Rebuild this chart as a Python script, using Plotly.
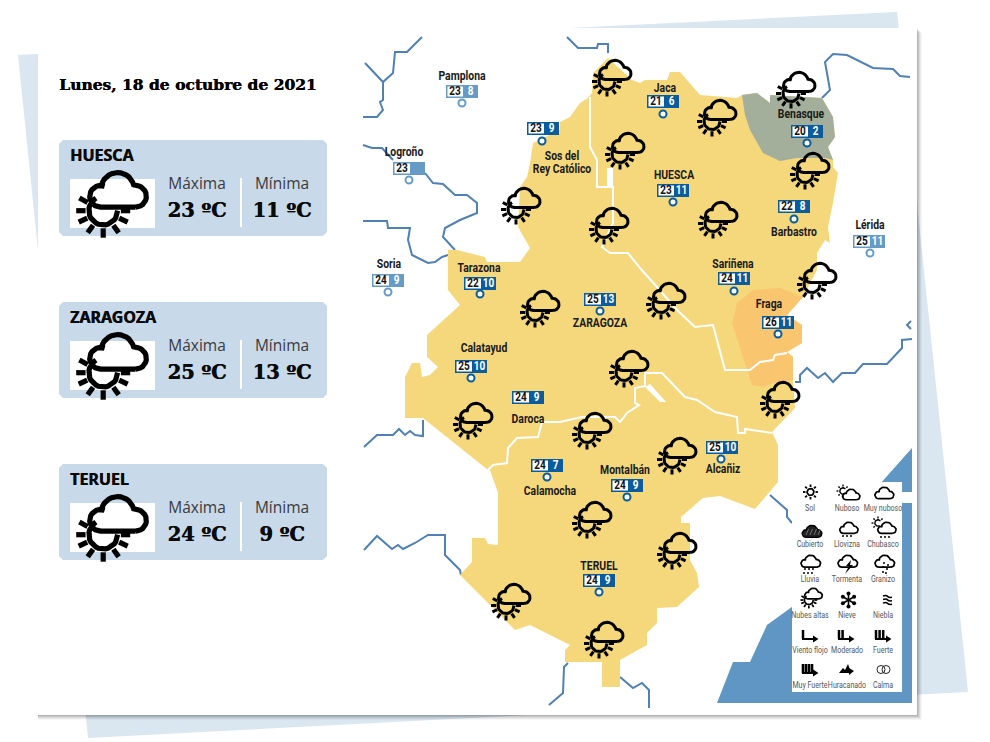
import math
import plotly.graph_objects as go

# ---------- data ----------
TITLE = "Lunes, 18 de octubre de 2021"
PANEL_NAMES = ["HUESCA", "ZARAGOZA", "TERUEL"]
PANEL_MAX = [23, 25, 24]
PANEL_MIN = [11, 13, 9]
PANEL_TOP = [140, 302, 464]

STATIONS = ["Pamplona", "Logroño", "Jaca", "Benasque", "HUESCA", "Barbastro", "Lérida", "Soria",
            "Tarazona", "ZARAGOZA", "Calatayud", "Daroca", "Calamocha", "Montalbán", "Sariñena",
            "Fraga", "Alcañiz", "TERUEL", "Sos"]
ST_MAX = [23, 23, 21, 20, 23, 22, 25, 24, 22, 25, 25, 24, 24, 24, 24, 26, 25, 24, 23]
ST_MIN = [8, None, 6, 2, 11, 8, 11, 9, 10, 13, 10, 9, 7, 9, 11, 11, 10, 9, 9]
ST_OUTSIDE = [1, 1, 0, 0, 0, 0, 1, 1, 0, 0, 0, 0, 0, 0, 0, 0, 0, 0, 0]
BOX_X = [446, 393, 647, 791, 657, 778, 853, 372, 464, 584, 455, 512, 531, 611, 718, 762, 706, 583, 527]
BOX_Y = [85, 162, 95, 125, 184, 200, 235, 274, 277, 293, 360, 391, 459, 479, 272, 316, 441, 574, 122]
MARK_X = [462, 409, 663, 807, 673, 794, 870, 388, 480, 600, 471, None, 547, 627, 734, 778, 721, 599, 542]
MARK_Y = [103, 180, 114, 143, 202, 219, 253, 292, 294, 311, 378, None, 477, 497, 291, 334, 459, 592, 141]
LABEL_X = [462, 404, 665, 801, 674, 794, 870, 389, 479, 600, 484, 528, 550, 625, 723 + 10, 769, 723, 599, 0]
LABEL_Y = [76, 152, 88, 114, 175, 232, 225, 264, 268, 323, 348, 419, 491, 470, 264, 304, 469, 566, 0]
EXTRA_LABELS = ["Sos del", "Rey Católico"]
EXTRA_X = [562, 562]
EXTRA_Y = [156, 169]

ICON_X = [593, 606, 502, 590, 698, 777, 791, 699, 798, 647, 521, 610, 454, 573, 761, 658, 573, 658, 492, 585]
ICON_Y = [60, 133, 188, 208, 100, 72, 153, 202, 263, 283, 291, 351, 403, 413, 382, 438, 502, 533, 584, 622]

ARAGON_X = [608, 593, 592, 588, 580, 570, 560, 560, 533, 530, 527, 520, 518, 527, 530, 520, 487, 485, 457, 448, 448,
            460, 427, 427, 438, 430, 422, 420, 412, 405, 405, 423, 488, 490, 498, 498, 488, 485, 472, 472, 460, 515,
            530, 570, 565, 565, 602, 602, 620, 620, 647, 647, 657, 657, 677, 699, 697, 690, 690, 681, 681, 703, 720,
            755, 760, 778, 778, 772, 795, 793, 793, 787, 802, 802, 787, 803, 817, 817, 825, 830, 828, 833, 838, 833,
            833, 828, 835, 833, 822, 770, 770, 757, 742, 737, 700, 680, 670, 667, 645, 640, 632]
ARAGON_Y = [58, 73, 93, 98, 103, 117, 122, 130, 143, 163, 177, 187, 227, 243, 248, 262, 262, 257, 250, 250, 290,
            305, 335, 357, 367, 375, 377, 363, 363, 377, 418, 418, 470, 470, 493, 545, 544, 538, 538, 562, 575, 630,
            625, 645, 650, 662, 662, 687, 687, 660, 645, 633, 623, 608, 607, 587, 573, 560, 523, 523, 517, 498, 496,
            509, 503, 482, 445, 432, 408, 380, 357, 352, 343, 325, 315, 297, 270, 253, 240, 243, 227, 203, 173, 167,
            160, 147, 137, 117, 98, 95, 103, 93, 95, 98, 95, 72, 72, 80, 80, 83, 80]
BENASQUE_X = [742, 757, 770, 770, 822, 833, 835, 828, 833, 826, 797, 780, 763, 750, 745]
BENASQUE_Y = [95, 93, 103, 95, 98, 117, 137, 147, 160, 158, 158, 161, 153, 130, 115]
FRAGA_X = [803, 780, 753, 737, 732, 740, 747, 748, 752, 763, 773, 793, 793, 787, 802, 802, 787]
FRAGA_Y = [297, 288, 290, 303, 323, 347, 368, 373, 385, 387, 383, 380, 357, 352, 343, 325, 315]

BORDER_1_X = [590, 590, 597, 597, 613, 613, 602, 610, 628, 640, 657, 677, 695, 713, 725, 750, 760, 773, 775, 787]
BORDER_1_Y = [97, 147, 160, 187, 187, 223, 247, 253, 253, 268, 287, 310, 327, 325, 370, 370, 362, 360, 355, 353]
NOTCH_X = [607, 613, 613, 607, 607]
NOTCH_Y = [168, 168, 187, 187, 168]
BORDER_2_X = [772, 745, 745, 738, 737, 715, 697, 685, 662, 645, 645, 635, 635, 639, 627, 620, 615, 582, 560, 542, 538, 517, 508, 507, 493, 488]
BORDER_2_Y = [433, 429, 433, 433, 417, 412, 400, 397, 373, 373, 386, 388, 403, 405, 413, 422, 417, 417, 422, 422, 437, 438, 448, 463, 465, 470]
WEDGE_X = [645, 660, 666, 650, 645]
WEDGE_Y = [387, 402, 402, 384, 387]

RIVERS = [
    ([422, 407, 395, 393, 383, 365], [37, 52, 52, 73, 82, 63]),
    ([383, 383, 380, 383, 377, 363], [82, 100, 102, 110, 117, 117]),
    ([567, 578, 597, 598, 608, 608], [37, 48, 48, 44, 44, 53]),
    ([363, 372, 382, 393], [145, 148, 148, 160]),
    ([425, 433, 443, 455, 467, 477, 477, 460, 445, 443, 455], [173, 183, 184, 195, 195, 203, 213, 220, 228, 237, 250]),
    ([363, 387, 388, 410, 408, 412, 428, 435, 442, 448], [221, 221, 228, 228, 240, 255, 263, 262, 257, 255]),
    ([364, 377, 393, 399, 405, 410, 415, 423, 423], [447, 435, 435, 429, 435, 431, 435, 436, 420]),
    ([910, 900, 893, 873, 847, 833, 825, 827, 828, 830, 822], [77, 76, 69, 68, 55, 54, 62, 73, 80, 90, 98]),
    ([795, 800, 800, 807, 818, 825, 833, 842, 855, 863, 887, 902, 902, 912], [382, 382, 375, 368, 378, 373, 382, 373, 373, 364, 364, 348, 340, 339]),
    ([911, 907, 911], [321, 325, 329]),
    ([364, 377, 392, 398, 403, 415, 428, 445, 445, 460, 461], [550, 536, 549, 545, 549, 543, 535, 535, 555, 570, 575]),
    ([549, 563, 564, 568], [705, 693, 667, 663]),
    ([620, 633, 642, 649, 649], [677, 688, 683, 690, 708]),
    ([770, 787, 787, 792], [495, 510, 517, 523]),
]
SEA_X = [912, 880, 796, 796, 767, 750, 733, 717, 912]
SEA_Y = [448, 484, 484, 604, 625, 662, 662, 703, 703]

LEGEND_LABELS = ["Sol", "Nuboso", "Muy nuboso", "Cubierto", "Llovizna", "Chubasco", "Lluvia", "Tormenta", "Granizo",
                 "Nubes altas", "Nieve", "Niebla", "Viento flojo", "Moderado", "Fuerte", "Muy Fuerte", "Huracanado", "Calma"]
LEGEND_COL = [810, 847, 883]
LEGEND_ROW = [508, 544, 579, 615, 650, 685]

# ---------- styles ----------
YELLOW = "#f6d87c"
DARK = "#0b5c9c"
LIGHT = "#669bc6"
RIVER = "#5080b4"
NARROW = "Roboto"
BK = "#000000"

fig = go.Figure()


def poly(xs, ys, fill, ln=None, w=0):
    fig.add_trace(go.Scatter(x=list(xs), y=list(ys), mode="lines", fill="toself", fillcolor=fill,
                             line=dict(color=ln or "rgba(0,0,0,0)", width=w),
                             hoverinfo="skip", showlegend=False))


def line(xs, ys, color=BK, w=2, smooth=False):
    fig.add_trace(go.Scatter(x=list(xs), y=list(ys), mode="lines",
                             line=dict(color=color, width=w, shape="spline" if smooth else "linear"),
                             hoverinfo="skip", showlegend=False))


def text(x, y, s, size, family=NARROW, color="#111111", pos="middle center", weight=400, shadow=None):
    font = dict(size=size, family=family, color=color, weight=weight)
    if shadow:
        font["shadow"] = shadow
    fig.add_trace(go.Scatter(x=[x], y=[y + 1.5], mode="text", text=[s], textposition=pos, textfont=font,
                             hoverinfo="skip", showlegend=False))


def rect(x0, y0, x1, y1, fill):
    poly([x0, x1, x1, x0, x0], [y0, y0, y1, y1, y0], fill)


def arc(cx, cy, r, a0, a1, n=14):
    return [(cx + r * math.cos(math.radians(a0 + (a1 - a0) * i / n)),
             cy + r * math.sin(math.radians(a0 + (a1 - a0) * i / n))) for i in range(n + 1)]


CLOUD = arc(32, 13.5, 6, 90, -100) + arc(22, 9.5, 9.2, -15, -165) + arc(12.5, 13.5, 6, -70, -270)
CLOUD.append(CLOUD[0])


def cloud(ox, oy, s, w, filled=None):
    xs = [ox + s * p[0] for p in CLOUD]
    ys = [oy + s * p[1] for p in CLOUD]
    if filled:
        poly(xs, ys, filled, BK, w)
    else:
        line(xs, ys, BK, w)


def sun(cx, cy, r, r0, r1, w, a0, a1, rays):
    pts = arc(cx, cy, r, a0, a1, 24)
    line([p[0] for p in pts], [p[1] for p in pts], BK, w)
    for a in rays:
        c, d = math.cos(math.radians(a)), math.sin(math.radians(a))
        line([cx + r0 * c, cx + r1 * c], [cy + r0 * d, cy + r1 * d], BK, w)


def weather_icon(ox, oy, s=1.0, w=3.0):
    sun(ox + 14 * s, oy + 21.5 * s, 8 * s, 9.8 * s, 15 * s, w, 0, 240,
        [0, 25, 55, 90, 125, 155, 180, 208])
    cloud(ox, oy, s, w)


# ---------- sheets ----------
poly([897, 18, 88, 968, 897], [12, 55, 738, 692, 12], "#dae6f0")
for off, col in [(5, "rgba(0,0,0,0.03)"), (4, "rgba(0,0,0,0.05)"), (3, "rgba(0,0,0,0.07)"), (2, "rgba(0,0,0,0.08)"), (1, "rgba(0,0,0,0.1)")]:
    rect(38, 28 + off, 917 + off, 715 + off, col)
rect(38, 28, 917, 715, "#ffffff")

# ---------- map ----------
for rx, ry in RIVERS:
    line(rx, ry, RIVER, 2)
poly(ARAGON_X, ARAGON_Y, YELLOW)
poly(BENASQUE_X, BENASQUE_Y, "#a3ae9b")
poly(FRAGA_X, FRAGA_Y, "#fac56f")
line(BORDER_1_X, BORDER_1_Y, "#ffffff", 2)
poly(NOTCH_X, NOTCH_Y, "#ffffff")
line(BORDER_2_X, BORDER_2_Y, "#ffffff", 2)
poly(WEDGE_X, WEDGE_Y, "#ffffff")
poly(SEA_X, SEA_Y, "#5f96c4")
rect(792, 482, 902, 692, "#ffffff")
rect(901, 492, 913, 503, "#ffffff")

for ix, iy in zip(ICON_X, ICON_Y):
    weather_icon(ix, iy)

# ---------- stations ----------
for i, name in enumerate(STATIONS):
    col = LIGHT if ST_OUTSIDE[i] else DARK
    bx, by = BOX_X[i], BOX_Y[i]
    rect(bx, by, bx + 32, by + 13, col)
    rect(bx + 1.5, by + 1.5, bx + 17, by + 11.5, "#ffffff")
    text(bx + 9, by + 5.5, str(ST_MAX[i]), 12.5, color="#111111", weight=700)
    if ST_MIN[i] is not None:
        text(bx + 24.5, by + 5.5, str(ST_MIN[i]), 12.5, color="#ffffff", weight=700)
    if MARK_X[i] is not None:
        fig.add_trace(go.Scatter(x=[MARK_X[i]], y=[MARK_Y[i]], mode="markers",
                                 marker=dict(size=7, color="#ffffff", line=dict(color=col, width=2)),
                                 hoverinfo="skip", showlegend=False))
    if name != "Sos":
        text(LABEL_X[i], LABEL_Y[i] - 0.5, name, 13, color="#1a1a1a", weight=700)
for s, x, y in zip(EXTRA_LABELS, EXTRA_X, EXTRA_Y):
    text(x, y - 0.5, s, 13, color="#1a1a1a", weight=700)

# ---------- left column ----------
text(59, 84.5, TITLE, 15.5, "DejaVu Serif", "#000000", "middle right", 700, "0.5px 0 0 #000")
for name, hi, lo, top in zip(PANEL_NAMES, PANEL_MAX, PANEL_MIN, PANEL_TOP):
    x0, x1, y0, y1, r = 59, 327, top, top + 96, 4
    poly([x0 + r, x1 - r, x1, x1, x1 - r, x0 + r, x0, x0, x0 + r],
         [y0, y0, y0 + r, y1 - r, y1, y1, y1 - r, y0 + r, y0], "#c8d9ea")
    rect(70, top + 39, 155, top + 88, "#ffffff")
    weather_icon(78, top + 32, 1.8, 5.2)
    text(70, top + 15, name, 16, "Noto Sans", "#0a0a0a", "middle right", 700, "0.4px 0 0 #0a0a0a")
    text(197, top + 44, "Máxima", 15.5, "Open Sans", "#3a3a3a")
    text(282, top + 44, "Mínima", 15.5, "Open Sans", "#3a3a3a")
    line([241, 241], [top + 38, top + 87], "#ffffff", 2)
    text(197, top + 71, f"{hi} ºC", 19.5, "DejaVu Serif", "#0a0a0a", weight=700, shadow="0.5px 0 0 #0a0a0a")
    text(282, top + 71, f"{lo} ºC", 19.5, "DejaVu Serif", "#0a0a0a", weight=700, shadow="0.5px 0 0 #0a0a0a")

# ---------- legend ----------
for k, lab in enumerate(LEGEND_LABELS):
    text(LEGEND_COL[k % 3], LEGEND_ROW[k // 3] - 1, lab, 8.5, NARROW, "#555555")


def dots(xs, ys, size=2):
    fig.add_trace(go.Scatter(x=xs, y=ys, mode="markers", marker=dict(size=size, color=BK),
                             hoverinfo="skip", showlegend=False))


def wind(x, y, bars, bw=2.5, step=3.6):
    line([x, x + 12], [y + 9, y + 9], BK, 2)
    poly([x + 11, x + 16.5, x + 11, x + 11], [y + 5.5, y + 9, y + 12.5, y + 5.5], BK)
    for b in range(bars):
        line([x + 1 + b * step, x + 1 + b * step], [y, y + 9], BK, bw)


# Sol
sun(810.5, 492, 3.4, 5, 7.5, 1.8, 0, 360, [0, 45, 90, 135, 180, 225, 270, 315])
# Nuboso
sun(843, 491, 3.2, 4.6, 6.5, 1.4, 60, 320, [90, 135, 180, 225, 270, 315])
cloud(839, 489, 0.55, 1.7)
# Muy nuboso
cloud(871, 487, 0.6, 1.7)
# Cubierto
cloud(798, 525, 0.63, 1.3, filled="#222222")
for dx in [806, 810, 814, 818]:
    line([dx, dx + 2.5], [535, 529], "#aaaaaa", 0.6)
# Llovizna
cloud(836, 522, 0.58, 1.7)
dots([843, 847, 851], [536, 536, 536])
# Chubasco
sun(878, 523, 3.2, 4.6, 6.5, 1.4, 60, 320, [135, 180, 225, 270, 315])
cloud(874, 522, 0.58, 1.7)
dots([881, 885, 889], [537, 537, 537])
# Lluvia
cloud(797, 555, 0.62, 1.7)
dots([805, 809, 813, 804, 808, 812], [569, 569, 569, 573, 573, 573])
# Tormenta
cloud(834, 555, 0.62, 1.7)
poly([851, 846, 849, 845, 853, 850, 851], [560, 566, 566, 574, 565, 565, 560], BK)
# Granizo
cloud(871, 555, 0.62, 1.7)
dots([884, 888, 883, 887, 883, 886], [563, 565, 567, 569, 572, 573])
# Nubes altas
weather_icon(801, 588, 0.56, 1.7)
# Nieve
for a in [30, 90, 150]:
    c, d = math.cos(math.radians(a)), math.sin(math.radians(a))
    line([848.5 - 6.5 * c, 848.5 + 6.5 * c], [600 - 6.5 * d, 600 + 6.5 * d], BK, 1.6)
dots([848.5 + 6.5 * math.cos(math.radians(a)) for a in range(30, 390, 60)],
     [600 + 6.5 * math.sin(math.radians(a)) for a in range(30, 390, 60)], 4)
# Niebla
for y in [596.5, 600, 603.5]:
    line([883, 886, 889, 892], [y - 0.5, y - 1, y + 0.8, y + 0.8], BK, 1.6, smooth=True)
# Winds
wind(802, 630, 1)
wind(838, 630, 2)
wind(875, 630, 3)
wind(802, 664, 4, 2.6, 3)
poly([839, 843, 845, 848, 850, 850, 839], [673, 668, 670, 664, 670, 673, 673], BK)
poly([849, 854, 849, 849], [668, 671, 675, 668], BK)
fig.add_trace(go.Scatter(x=[881, 886], y=[669.5, 669.5], mode="markers",
                         marker=dict(size=8, color="rgba(0,0,0,0)", line=dict(color="#222222", width=1)),
                         hoverinfo="skip", showlegend=False))

fig.update_layout(width=990, height=742, margin=dict(l=0, r=0, t=0, b=0), autosize=False,
                  paper_bgcolor="#ffffff", plot_bgcolor="#ffffff", showlegend=False,
                  xaxis=dict(range=[0, 990], visible=False, fixedrange=True),
                  yaxis=dict(range=[742, 0], visible=False, fixedrange=True))

CONDENSE = """
document.body.style.margin='0';
document.querySelectorAll('.textpoint text').forEach(function(t){
  if((t.style.fontFamily||'').indexOf('Roboto')<0) return;
  var f = parseFloat(t.style.fontSize)<10 ? 0.83 : 0.8;
  var l = t.getComputedTextLength();
  t.setAttribute('lengthAdjust','spacingAndGlyphs');
  t.setAttribute('textLength', l*f);
});
"""
fig.write_html("out.html", config={"displayModeBar": False}, post_script=CONDENSE)
